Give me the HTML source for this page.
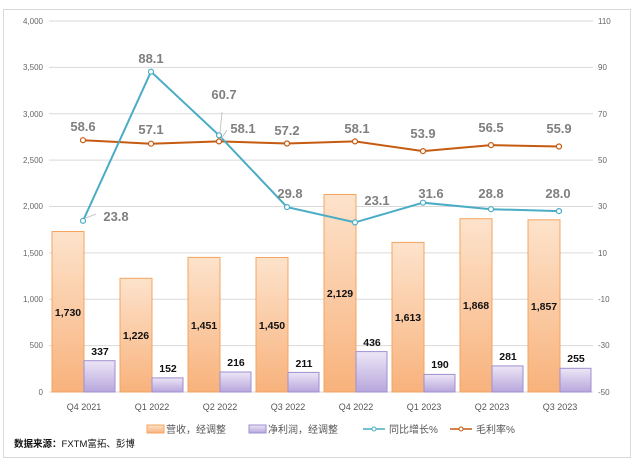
<!DOCTYPE html>
<html><head><meta charset="utf-8"><style>
body{margin:0;background:#fff;}
svg{display:block;font-family:"Liberation Sans","Noto Sans CJK SC",sans-serif;}
</style></head><body>
<svg width="635" height="464" viewBox="0 0 635 464">
<defs>
<linearGradient id="og" x1="0" y1="0" x2="0" y2="1"><stop offset="0" stop-color="#fde3cc"/><stop offset="1" stop-color="#f8b27c"/></linearGradient>
<linearGradient id="pg" x1="0" y1="0" x2="0" y2="1"><stop offset="0" stop-color="#ece6f6"/><stop offset="1" stop-color="#b8a6dc"/></linearGradient>
</defs>
<rect x="3.5" y="9.5" width="627" height="448" fill="#fff" stroke="#d9d9d9"/>
<g stroke="#d9d9d9" stroke-width="1">
<line x1="49" x2="593" y1="21" y2="21"/><line x1="49" x2="593" y1="67.4" y2="67.4"/><line x1="49" x2="593" y1="113.8" y2="113.8"/><line x1="49" x2="593" y1="160.1" y2="160.1"/><line x1="49" x2="593" y1="206.5" y2="206.5"/><line x1="49" x2="593" y1="252.9" y2="252.9"/><line x1="49" x2="593" y1="299.3" y2="299.3"/><line x1="49" x2="593" y1="345.6" y2="345.6"/><line x1="49" x2="593" y1="392" y2="392"/>
</g>
<g font-size="8" fill="#666" text-anchor="end">
<text x="43" y="24">4,000</text><text x="43" y="70">3,500</text><text x="43" y="117">3,000</text><text x="43" y="163">2,500</text><text x="43" y="209">2,000</text><text x="43" y="256">1,500</text><text x="43" y="302">1,000</text><text x="43" y="348">500</text><text x="43" y="395">0</text>
</g>
<g font-size="8" fill="#666" text-anchor="start">
<text x="598" y="24">110</text><text x="598" y="70">90</text><text x="598" y="117">70</text><text x="598" y="163">50</text><text x="598" y="209">30</text><text x="598" y="256">10</text><text x="598" y="302">-10</text><text x="598" y="348">-30</text><text x="598" y="395">-50</text>
</g>
<g stroke="#f4a460" stroke-width="1" fill="url(#og)">
<rect x="52" y="231.5" width="32" height="160.5"/>
<rect x="120" y="278.3" width="32" height="113.7"/>
<rect x="188" y="257.4" width="32" height="134.6"/>
<rect x="256" y="257.5" width="32" height="134.5"/>
<rect x="324" y="194.5" width="32" height="197.5"/>
<rect x="392" y="242.4" width="32" height="149.6"/>
<rect x="460" y="218.7" width="32" height="173.3"/>
<rect x="528" y="219.8" width="32" height="172.2"/>
</g>
<g stroke="#9f8fcf" stroke-width="1" fill="url(#pg)">
<rect x="84" y="360.7" width="31" height="31.3"/>
<rect x="152" y="377.9" width="31" height="14.1"/>
<rect x="220" y="372" width="31" height="20"/>
<rect x="288" y="372.4" width="31" height="19.6"/>
<rect x="356" y="351.6" width="31" height="40.4"/>
<rect x="424" y="374.4" width="31" height="17.6"/>
<rect x="492" y="365.9" width="31" height="26.1"/>
<rect x="560" y="368.3" width="31" height="23.7"/>
</g>
<g font-size="10.5" font-weight="bold" fill="#111" text-anchor="middle">
<text x="68" y="316">1,730</text><text x="136" y="339">1,226</text><text x="204" y="329">1,451</text><text x="272" y="329">1,450</text><text x="340" y="297">2,129</text><text x="408" y="321">1,613</text><text x="476" y="309">1,868</text><text x="544" y="310">1,857</text>
<text x="100" y="355">337</text><text x="168" y="372">152</text><text x="236" y="366">216</text><text x="304" y="367">211</text><text x="372" y="346">436</text><text x="440" y="368">190</text><text x="508" y="360">281</text><text x="576" y="362">255</text>
</g>
<polyline fill="none" stroke="#c55a11" stroke-width="2" points="83,140.2 151,143.7 219,141.4 287,143.5 355,141.4 423,151.1 491,145.1 559,146.5"/>
<polyline fill="none" stroke="#4bacc6" stroke-width="2" points="83,220.8 151,71.7 219,135.3 287,207.1 355,222.4 423,202.7 491,209.2 559,211.1"/>
<g fill="#fff" stroke="#c55a11" stroke-width="1.2">
<circle cx="83" cy="140.2" r="2.5"/><circle cx="151" cy="143.7" r="2.5"/><circle cx="219" cy="141.4" r="2.5"/><circle cx="287" cy="143.5" r="2.5"/><circle cx="355" cy="141.4" r="2.5"/><circle cx="423" cy="151.1" r="2.5"/><circle cx="491" cy="145.1" r="2.5"/><circle cx="559" cy="146.5" r="2.5"/>
</g>
<g fill="#fff" stroke="#4bacc6" stroke-width="1.2">
<circle cx="83" cy="220.8" r="2.5"/><circle cx="151" cy="71.7" r="2.5"/><circle cx="219" cy="135.3" r="2.5"/><circle cx="287" cy="207.1" r="2.5"/><circle cx="355" cy="222.4" r="2.5"/><circle cx="423" cy="202.7" r="2.5"/><circle cx="491" cy="209.2" r="2.5"/><circle cx="559" cy="211.1" r="2.5"/>
</g>
<g stroke="#bbb" fill="none" stroke-width="0.8">
<path d="M86,218 L96,214"/><path d="M220,133 L222,112"/><path d="M221,139 L227,130"/>
</g>
<g font-size="13" font-weight="bold" fill="#7f7f7f" text-anchor="middle">
<text x="83" y="131">58.6</text><text x="151" y="134">57.1</text><text x="243" y="133">58.1</text><text x="287" y="135">57.2</text><text x="357" y="133">58.1</text><text x="423" y="138">53.9</text><text x="491" y="132">56.5</text><text x="559" y="133">55.9</text>
<text x="116" y="221">23.8</text><text x="151" y="63">88.1</text><text x="224" y="99">60.7</text><text x="290" y="198">29.8</text><text x="377" y="205">23.1</text><text x="431" y="198">31.6</text><text x="491" y="198">28.8</text><text x="558" y="198">28.0</text>
</g>
<g font-size="9" fill="#555" text-anchor="middle">
<text x="84" y="410">Q4 2021</text><text x="152" y="410">Q1 2022</text><text x="220" y="410">Q2 2022</text><text x="288" y="410">Q3 2022</text><text x="356" y="410">Q4 2022</text><text x="424" y="410">Q1 2023</text><text x="492" y="410">Q2 2023</text><text x="560" y="410">Q3 2023</text>
</g>
<g font-size="10" fill="#555">
<rect x="147" y="425" width="17" height="8" fill="url(#og)" stroke="#f4a460"/><text x="166" y="433">营收，经调整</text>
<rect x="249" y="425" width="17" height="8" fill="url(#pg)" stroke="#9f8fcf"/><text x="268" y="433">净利润，经调整</text>
<line x1="363" x2="385" y1="429" y2="429" stroke="#4bacc6" stroke-width="1.5"/><circle cx="374" cy="429" r="2" fill="#fff" stroke="#4bacc6"/><text x="389" y="433">同比增长%</text>
<line x1="450" x2="472" y1="429" y2="429" stroke="#c55a11" stroke-width="1.5"/><circle cx="461" cy="429" r="2" fill="#fff" stroke="#c55a11"/><text x="476" y="433">毛利率%</text>
</g>
<text x="14" y="447" font-size="9.5" fill="#111" font-weight="bold">数据来源：<tspan font-weight="normal">FXTM富拓、彭博</tspan></text>
</svg>
</body></html>
